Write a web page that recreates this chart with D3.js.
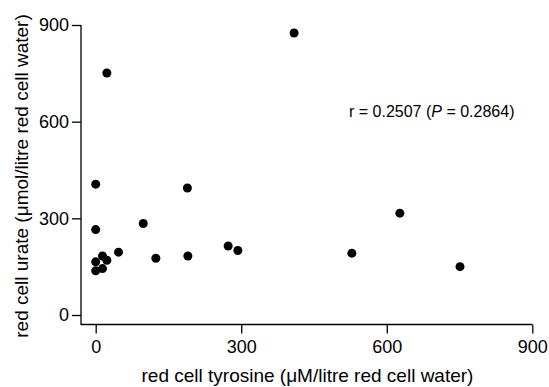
<!DOCTYPE html>
<html>
<head>
<meta charset="utf-8">
<script src="https://cdn.jsdelivr.net/npm/d3@7"></script>
<style>
  body { margin: 0; background: #fff; }
  text { font-family: "Liberation Sans", Arial, sans-serif; fill: #000; }
</style>
</head>
<body>
<div id="scatter"></div>
<script>
// Data
var tyrosine = [0, 0, 0, 0, 14, 14, 23, 47, 98, 124, 189, 190, 273, 293, 409, 528, 627, 751, 23];
var urate    = [406, 265, 165, 137, 183, 144, 170, 195, 284, 176, 394, 183, 214, 200, 875, 192, 316, 150, 751];
var xTicks = [0, 300, 600, 900];
var yTicks = [0, 300, 600, 900];
var statText = ["r = 0.2507 (", "P", " = 0.2864)"];

var svgWidth = 549;
var svgHeight = 387;

var svg = d3.select("#scatter")
  .append("svg")
  .attr("width", svgWidth)
  .attr("height", svgHeight);

var points = tyrosine.map(function (t, i) {
  return { x: t, y: urate[i] };
});

// scales
var xScale = d3.scaleLinear().domain([0, 900]).range([95.7, 532.3]);
var yScale = d3.scaleLinear().domain([0, 900]).range([315, 25]);

// axes (offset, Prism style)
var bottomAxis = d3.axisBottom(xScale).tickValues(xTicks).tickSize(9).tickPadding(7).tickSizeOuter(0);
var leftAxis = d3.axisLeft(yScale).tickValues(yTicks).tickSize(9).tickPadding(3).tickSizeOuter(0);

var xAxisG = svg.append("g")
  .attr("transform", "translate(0, 324.5)")
  .call(bottomAxis);
xAxisG.select(".domain").attr("d", "M81,0H532.3");

var yAxisG = svg.append("g")
  .attr("transform", "translate(81, 0)")
  .call(leftAxis);
yAxisG.select(".domain").attr("d", "M0,25V325");

svg.selectAll(".tick line").attr("stroke", "#000").attr("stroke-width", 1.3);
svg.selectAll(".domain").attr("stroke", "#000").attr("stroke-width", 1.3);
svg.selectAll(".tick text")
  .attr("font-family", null)
  .attr("font-size", null)
  .style("font-family", "'Liberation Sans', Arial, sans-serif")
  .style("font-size", "18px")
  .attr("fill", "#000");

// dots
svg.append("g")
  .selectAll("circle")
  .data(points)
  .enter()
  .append("circle")
  .attr("cx", d => xScale(d.x))
  .attr("cy", d => yScale(d.y))
  .attr("r", 4.5)
  .attr("fill", "#000");

// correlation text
var st = svg.append("text")
  .attr("x", 349)
  .attr("y", 117)
  .style("font-size", "16px");
st.append("tspan").text(statText[0]);
st.append("tspan").style("font-style", "italic").text(statText[1]);
st.append("tspan").text(statText[2]);

// axis titles
svg.append("text")
  .attr("x", 141.5)
  .attr("y", 382)
  .style("font-size", "19px")
  .text("red cell tyrosine (\u03bcM/litre red cell water)");

svg.append("text")
  .attr("transform", "translate(28, 176) rotate(-90)")
  .attr("text-anchor", "middle")
  .style("font-size", "19px")
  .text("red cell urate (\u03bcmol/litre red cell water)");
</script>
</body>
</html>
